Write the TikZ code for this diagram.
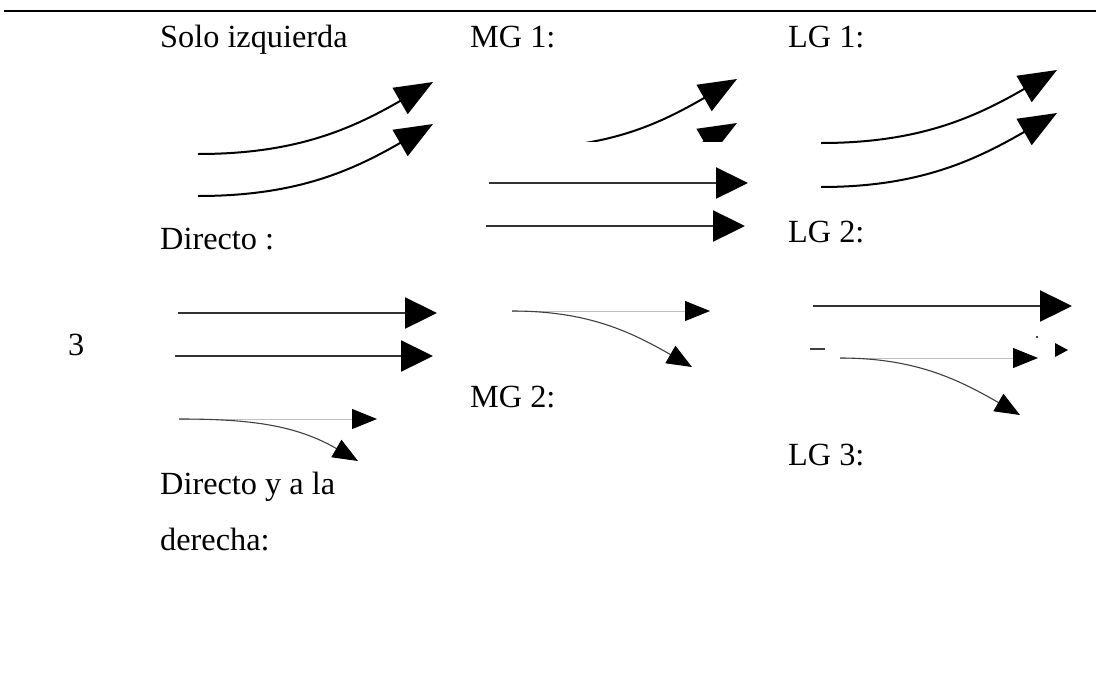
\documentclass[tikz,border=0pt]{standalone}
\usepackage{fontspec}
\setmainfont{Liberation Serif}
\usetikzlibrary{arrows.meta}
\begin{document}
\begin{tikzpicture}[x=1pt,y=-1pt,
  lbl/.style={anchor=base west, inner sep=0pt, font=\fontsize{32.3}{38}\selectfont},
  curvearrow/.style={line width=2pt, draw=black, -{Triangle[length=38pt,width=30pt,color=black]}},
  straightarrow/.style={line width=2.4pt, draw=black!80, -{Triangle[length=32pt,width=31pt,color=black]}},
  faintarrow/.style={line width=1pt, draw=black!25, -{Triangle[length=25pt,width=20pt,color=black]}},
  veerarrow/.style={line width=1.1pt, draw=black!75, -{Triangle[length=25pt,width=20pt,color=black]}},
  tablerule/.style={line width=2pt, draw=black},
]
\useasboundingbox (0,0) rectangle (1096,678);

% top rule of the table
\coordinate (ruleL) at (4,11);
\coordinate (ruleR) at (1096,11);
\draw[tablerule] (ruleL) -- (ruleR);

% labels
\node[lbl] (solo) at (160,47) {Solo izquierda};
\node[lbl] (mg1) at (470,47) {MG 1:};
\node[lbl] (lg1) at (788,47) {LG 1:};
\node[lbl] (dir) at (160,249) {Directo :};
\node[lbl] (lg2) at (788,242) {LG 2:};
\node[lbl] (num) at (68,355) {3};
\node[lbl] (mg2) at (470,407) {MG 2:};
\node[lbl] (lg3) at (788,465) {LG 3:};
\node[lbl] (dyd1) at (160,494) {Directo y a la};
\node[lbl] (dyd2) at (160,550) {derecha:};

% left column: two left-curving arrows
\coordinate (l1s) at (198,154); \coordinate (l1e) at (433,82);
\coordinate (l2s) at (198,196); \coordinate (l2e) at (433,124);
\draw[curvearrow] (l1s) to[out=0,in=210] (l1e);
\draw[curvearrow] (l2s) to[out=0,in=210] (l2e);

% left column: two straight arrows
\coordinate (l3s) at (178,313); \coordinate (l3e) at (437,313);
\coordinate (l4s) at (175,356); \coordinate (l4e) at (433,356);
\draw[straightarrow] (l3s) -- (l3e);
\draw[straightarrow] (l4s) -- (l4e);

% left column: straight and right-veering pair
\coordinate (l5s) at (179,419); \coordinate (l5e) at (377,419);
\coordinate (l6e) at (358,461);
\draw[faintarrow] (l5s) -- (l5e);
\draw[veerarrow] (l5s) to[out=0,in=150] (l6e);

% middle column: clipped curving pair
\coordinate (m1s) at (520,148); \coordinate (m1e) at (737,79);
\coordinate (m2s) at (520,192); \coordinate (m2e) at (737,123);
\begin{scope}
  \clip (480,0) rectangle (780,141);
  \draw[curvearrow] (m1s) to[out=0,in=210] (m1e);
  \draw[curvearrow] (m2s) to[out=0,in=210] (m2e);
\end{scope}

% middle column: two straight arrows
\coordinate (m3s) at (489,183); \coordinate (m3e) at (748,183);
\coordinate (m4s) at (486,226); \coordinate (m4e) at (745,226);
\draw[straightarrow] (m3s) -- (m3e);
\draw[straightarrow] (m4s) -- (m4e);

% middle column: straight and right-veering pair
\coordinate (m5s) at (512,311); \coordinate (m5e) at (710,311);
\coordinate (m6e) at (692,367);
\draw[faintarrow] (m5s) -- (m5e);
\draw[veerarrow] (m5s) to[out=0,in=150] (m6e);

% right column: two curving arrows
\coordinate (r1s) at (821,143); \coordinate (r1e) at (1057,70);
\coordinate (r2s) at (821,187); \coordinate (r2e) at (1057,113);
\draw[curvearrow] (r1s) to[out=0,in=210] (r1e);
\draw[curvearrow] (r2s) to[out=0,in=210] (r2e);

% right column: straight arrow
\coordinate (r3s) at (813,306); \coordinate (r3e) at (1072,306);
\draw[straightarrow] (r3s) -- (r3e);

% right column: fragments of a hidden straight arrow
\draw[line width=2pt, draw=black!75] (810,349) -- (825,349);
\fill[black] (1055,343) -- (1068,350) -- (1055,357) -- cycle;
\fill[black] (1037,337) circle (1.2);

% right column: straight and right-veering pair
\coordinate (r5s) at (840,358); \coordinate (r5e) at (1038,358);
\coordinate (r6e) at (1020,415);
\draw[faintarrow] (r5s) -- (r5e);
\draw[veerarrow] (r5s) to[out=0,in=150] (r6e);
\end{tikzpicture}
\end{document}
